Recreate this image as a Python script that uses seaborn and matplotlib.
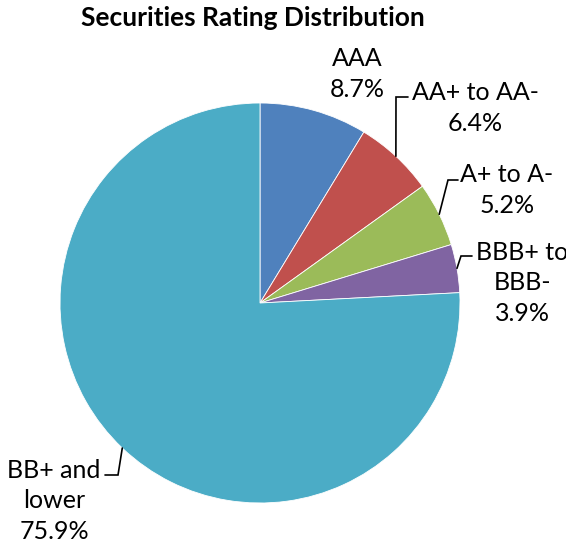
import numpy as np
import matplotlib.pyplot as plt
import seaborn as sns

# data
categories = ["AAA", "AA+ to AA-", "A+ to A-", "BBB+ to\nBBB-", "BB+ and\nlower"]
shares = [8.7, 6.4, 5.2, 3.9, 75.9]
pct_labels = ["8.7%", "6.4%", "5.2%", "3.9%", "75.9%"]
colors = ["#4F81BD", "#C0504D", "#9BBB59", "#8064A2", "#4BACC6"]

sns.set_style("white")
plt.rcParams["font.family"] = ["Lato", "DejaVu Sans"]

W, H = 566, 555
fig = plt.figure(figsize=(W / 100, H / 100), dpi=100)
ax = fig.add_axes([0, 0, 1, 1])

# pie geometry in pixel-like coords (y measured from bottom)
cx, cy, r = 260, H - 303, 200
wedges, _ = ax.pie(shares, colors=colors, startangle=90, counterclock=False,
                   center=(cx, cy), radius=r, frame=True,
                   wedgeprops=dict(edgecolor="white", linewidth=0.6))
ax.set_xlim(0, W)
ax.set_ylim(0, H)
ax.set_aspect("auto")
ax.axis("off")

# label text centres (px from top) and leader elbows
label_pos = [(357, 74), (475, 108), (507, 190), (522, 283), (54, 501)]
elbows = [None, ((396, 97), (408, 97)), ((448, 180), (458, 180)),
          ((461, 256), (472, 256)), ((118, 475), (105, 475))]

for w, cat, pct, (lx, ly), el in zip(wedges, categories, pct_labels, label_pos, elbows):
    ax.text(lx, H - ly, cat + "\n" + pct, ha="center", va="center",
            fontsize=18, linespacing=1.4, color="black", clip_on=False)
    if el is not None:
        mid = np.deg2rad((w.theta1 + w.theta2) / 2)
        px, py = cx + r * np.cos(mid), cy + r * np.sin(mid)
        xs = [px, el[0][0], el[1][0]]
        ys = [py, H - el[0][1], H - el[1][1]]
        ax.plot(xs, ys, color="black", linewidth=1.2, solid_joinstyle="miter")

ax.text(253, H - 18, "Securities Rating Distribution", ha="center", va="center",
        fontsize=19, fontweight="bold", color="black")

fig.savefig("out.png", dpi=100)
